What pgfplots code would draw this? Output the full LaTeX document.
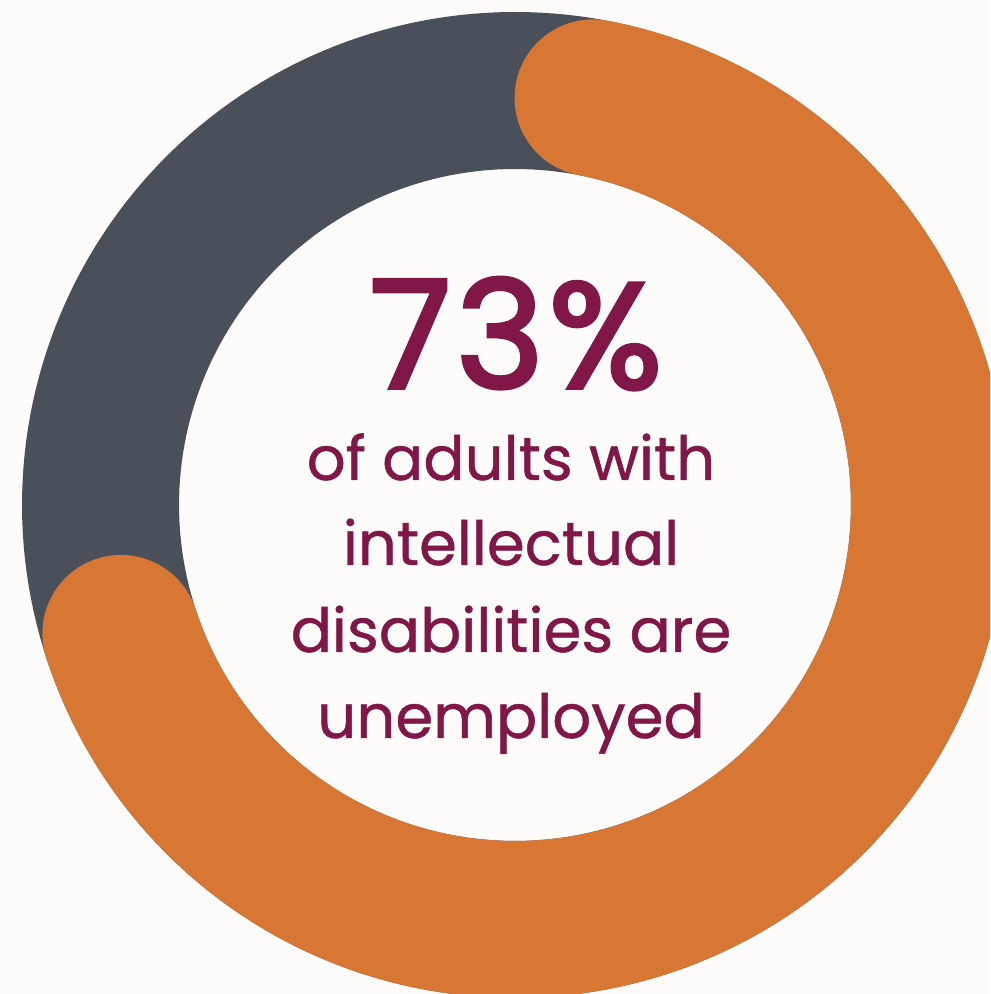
\documentclass[border=0pt]{standalone}
\usepackage{fontspec}
\setmainfont{Poppins}
\newfontfamily\bigfont[FakeBold=2.5,LetterSpace=3]{Poppins}
\newfontfamily\txtfont[FakeBold=0.8]{Poppins}
\usepackage{pgfplots}
\pgfplotsset{compat=1.18}
\definecolor{bgc}{HTML}{FDFCFB}
\definecolor{ringgray}{HTML}{4A5059}
\definecolor{ringorange}{HTML}{D77733}
\definecolor{maroon}{HTML}{801747}
% data: share of adults with intellectual disabilities who are unemployed
\def\pct{73}
% geometry (pixels of the 990x994 frame)
\def\cx{515}\def\cy{489}\def\rmid{414.5}\def\ringpx{157}
\begin{document}
\begin{tikzpicture}
\pgfmathsetmacro{\capdeg}{deg((\ringpx/2)/\rmid)}
\pgfmathsetmacro{\startdeg}{90-\capdeg}
\pgfmathsetmacro{\enddeg}{90-3.6*\pct+\capdeg}
\begin{axis}[
  width=495pt, height=497pt, scale only axis,
  xmin=0, xmax=990, ymin=0, ymax=994,
  hide axis, clip=true,
]
\fill[bgc] (rel axis cs:0,0) rectangle (rel axis cs:1,1);
\addplot[ringgray, line width=78.5pt, domain=0:365, samples=240, line cap=butt]
  ({\cx+\rmid*cos(x)},{\cy+\rmid*sin(x)});
\addplot[ringorange, line width=78.5pt, domain=\startdeg:\enddeg, samples=240, line cap=round]
  ({\cx+\rmid*cos(x)},{\cy+\rmid*sin(x)});
\node[anchor=base, text=maroon, font=\fontsize{75}{80}\bigfont] at (axis cs:516,606) {73\%};
\node[anchor=base, text=maroon, font=\fontsize{30.5}{32}\txtfont] at (axis cs:511,514) {of adults with};
\node[anchor=base, text=maroon, font=\fontsize{30.5}{32}\txtfont] at (axis cs:511,429) {intellectual};
\node[anchor=base, text=maroon, font=\fontsize{30.5}{32}\txtfont] at (axis cs:511,342) {disabilities are};
\node[anchor=base, text=maroon, font=\fontsize{30.5}{32}\txtfont] at (axis cs:511,256) {unemployed};
\end{axis}
\pgfresetboundingbox
\useasboundingbox (current axis.south west) rectangle (current axis.north east);
\end{tikzpicture}
\end{document}
